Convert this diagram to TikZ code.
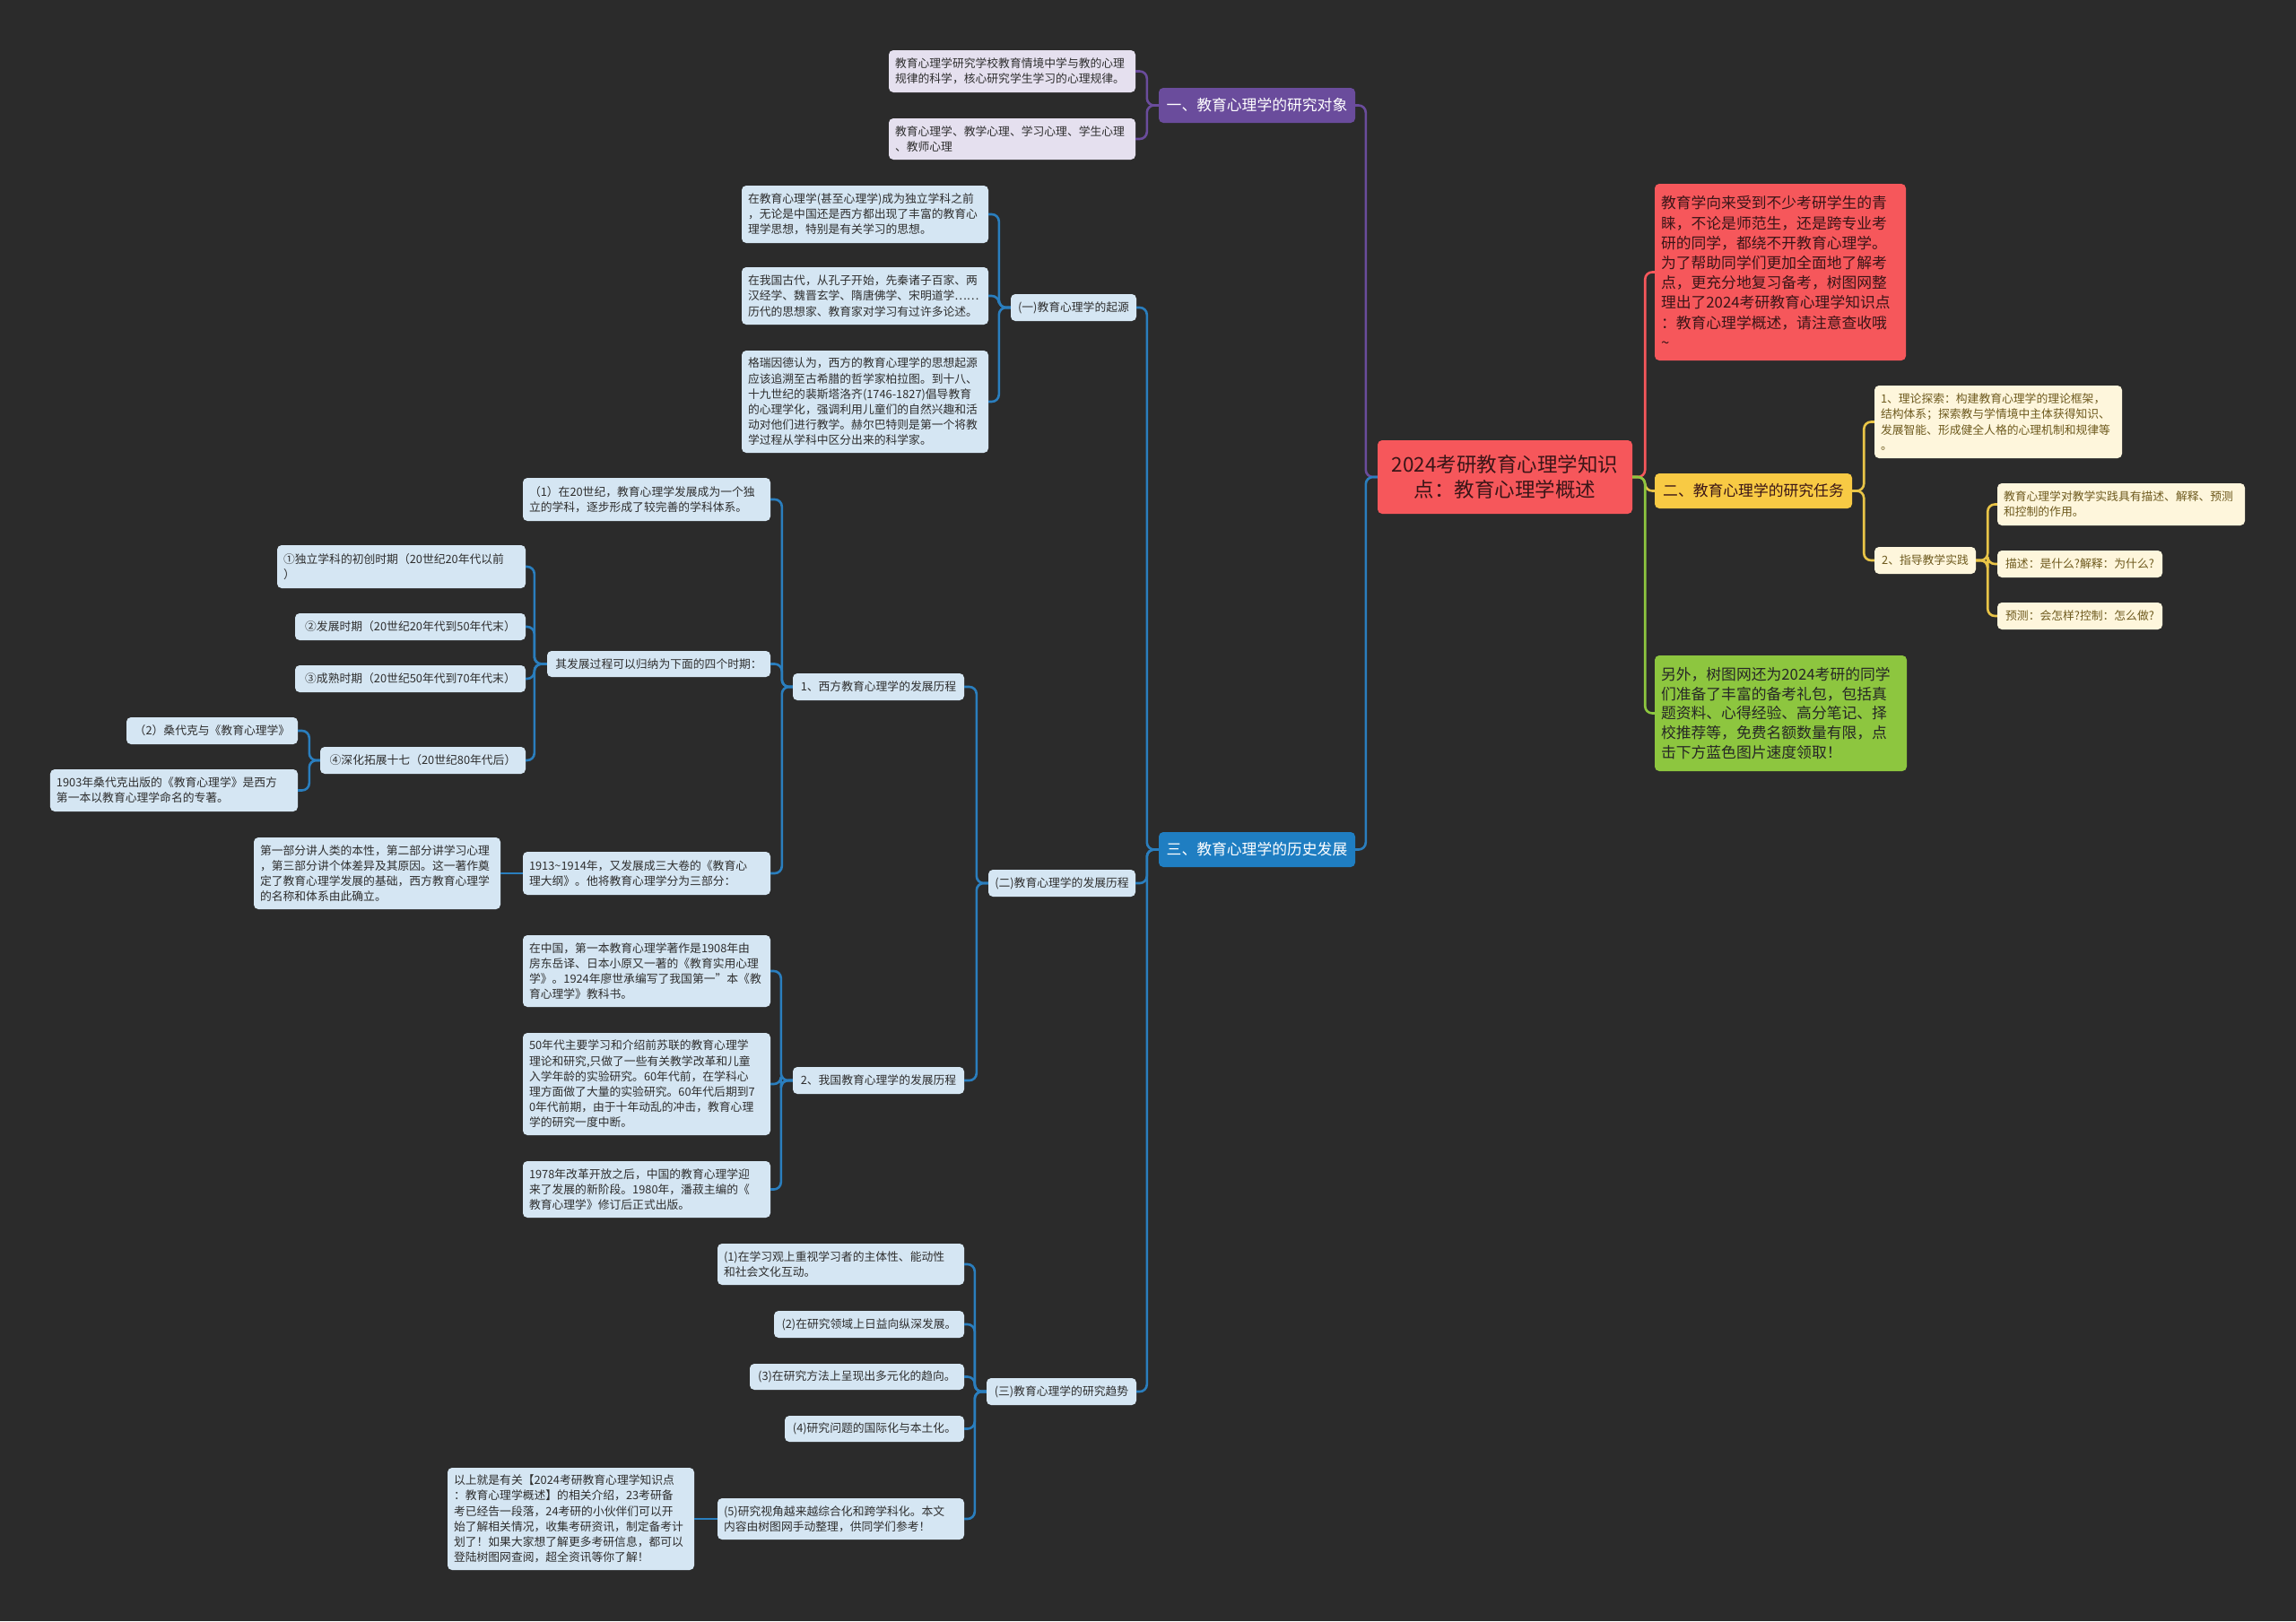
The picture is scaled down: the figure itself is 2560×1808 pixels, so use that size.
\documentclass[tikz,border=0pt]{standalone}
\usepackage{fontspec}
\setmainfont{Noto Sans CJK SC}
\definecolor{bgc}{HTML}{2B2B2B}
\definecolor{purM}{HTML}{6A4C9C}
\definecolor{purL}{HTML}{E5E0EF}
\definecolor{bluM}{HTML}{1F7EC2}
\definecolor{bluLn}{HTML}{2A7EBE}
\definecolor{bluL}{HTML}{D5E6F3}
\definecolor{redM}{HTML}{F6575B}
\definecolor{redT}{HTML}{3A1517}
\definecolor{yelM}{HTML}{F8CA44}
\definecolor{yelLn}{HTML}{E8C447}
\definecolor{yelL}{HTML}{FEF6DC}
\definecolor{yelT}{HTML}{6E5A1E}
\definecolor{grnM}{HTML}{8DC63F}
\definecolor{txtD}{HTML}{2E2E2E}
\newcommand\mmSmall{\fontsize{12.8bp}{17.2bp}\selectfont}
\newcommand\mmMid{\fontsize{16.8bp}{22.2bp}\selectfont}
\newcommand\mmRoot{\fontsize{22.5bp}{28bp}\selectfont}
\begin{document}
\begin{tikzpicture}[x=1bp,y=-1bp,
  box/.style={rounded corners=5bp, inner xsep=7bp, inner ysep=0bp, anchor=center},
  sm/.style={box, font=\mmSmall},
  md/.style={box, font=\mmMid},
  bl/.style={sm, fill=bluL, text=txtD},
  pl/.style={sm, fill=purL, text=txtD},
  yl/.style={sm, fill=yelL, text=yelT},
  wd/.style 2 args={text width=#1bp, minimum height=#2bp},
  conn/.style={line width=2.6bp, rounded corners=8bp},
  cP/.style={conn, draw=purM},
  cB/.style={conn, draw=bluLn},
  cR/.style={conn, draw=redM},
  cY/.style={conn, draw=yelLn},
  cG/.style={conn, draw=grnM}]
\fill[bgc] (0,0) rectangle (2560,1808);
\useasboundingbox (0,0) rectangle (2560,1808);

% root
\node[box, font=\mmRoot, fill=redM, text=redT, align=center, wd={270}{82}] (root) at (1678,532) {2024考研教育心理学知识\\点：教育心理学概述};

% purple branch
\node[md, fill=purM, text=white, align=center, wd={205}{39}] (P0) at (1401.5,117.5) {一、教育心理学的研究对象};
\node[pl, align=left, wd={261}{47}] (P1) at (1128.5,79.5) {教育心理学研究学校教育情境中学与教的心理\\规律的科学，核心研究学生学习的心理规律。};
\node[pl, align=left, wd={261}{46}] (P2) at (1128.5,155) {教育心理学、教学心理、学习心理、学生心理\\、教师心理};

% blue branch
\node[md, fill=bluM, text=white, align=center, wd={205}{39}] (B0) at (1401.5,947.5) {三、教育心理学的历史发展};
\node[bl, align=center, wd={126}{30}] (B1) at (1197,343) {(一)教育心理学的起源};
\node[bl, align=left, wd={261}{64}] (B1a) at (964.5,239) {在教育心理学(甚至心理学)成为独立学科之前\\，无论是中国还是西方都出现了丰富的教育心\\理学思想，特别是有关学习的思想。};
\node[bl, align=left, wd={261}{64}] (B1b) at (964.5,330) {在我国古代，从孔子开始，先秦诸子百家、两\\汉经学、魏晋玄学、隋唐佛学、宋明道学……\\历代的思想家、教育家对学习有过许多论述。};
\node[bl, align=left, wd={261}{114}] (B1c) at (964.5,448) {格瑞因德认为，西方的教育心理学的思想起源\\应该追溯至古希腊的哲学家柏拉图。到十八、\\十九世纪的裴斯塔洛齐(1746-1827)倡导教育\\的心理学化，强调利用儿童们的自然兴趣和活\\动对他们进行教学。赫尔巴特则是第一个将教\\学过程从学科中区分出来的科学家。};

\node[bl, align=center, wd={150}{30}] (B2) at (1184,985) {(二)教育心理学的发展历程};
\node[bl, align=center, wd={177}{30}] (W0) at (979.5,766) {1、西方教育心理学的发展历程};
\node[bl, align=left, wd={262}{48}] (W1) at (721,557) {（1）在20世纪，教育心理学发展成为一个独\\立的学科，逐步形成了较完善的学科体系。};
\node[bl, align=center, wd={235}{29}] (W2) at (734.5,740.5) {其发展过程可以归纳为下面的四个时期：};
\node[bl, align=left, wd={262}{48}] (W3) at (721,974) {1913\textasciitilde1914年，又发展成三大卷的《教育心\\理大纲》。他将教育心理学分为三部分：};
\node[bl, align=left, wd={261}{80}] (W3a) at (420.5,974) {第一部分讲人类的本性，第二部分讲学习心理\\，第三部分讲个体差异及其原因。这一著作奠\\定了教育心理学发展的基础，西方教育心理学\\的名称和体系由此确立。};
\node[bl, align=left, wd={263}{48}] (W2a) at (447.5,632) {①独立学科的初创时期（20世纪20年代以前\\）};
\node[bl, align=center, wd={243}{30}] (W2b) at (457.5,699) {②发展时期（20世纪20年代到50年代末）};
\node[bl, align=center, wd={243}{30}] (W2c) at (457.5,757) {③成熟时期（20世纪50年代到70年代末）};
\node[bl, align=center, wd={215}{30}] (W2d) at (471.5,848) {④深化拓展十七（20世纪80年代后）};
\node[bl, align=center, wd={177}{30}] (W2d1) at (236.5,815) {（2）桑代克与《教育心理学》};
\node[bl, align=left, wd={262}{47}] (W2d2) at (194,881.5) {1903年桑代克出版的《教育心理学》是西方\\第一本以教育心理学命名的专著。};

\node[bl, align=center, wd={177}{30}] (C0) at (979.5,1205) {2、我国教育心理学的发展历程};
\node[bl, align=left, wd={262}{80}] (C1) at (721,1083) {在中国，第一本教育心理学著作是1908年由\\房东岳译、日本小原又一著的《教育实用心理\\学》。1924年廖世承编写了我国第一"本《教\\育心理学》教科书。};
\node[bl, align=left, wd={262}{114}] (C2) at (721,1209) {50年代主要学习和介绍前苏联的教育心理学\\理论和研究,只做了一些有关教学改革和儿童\\入学年龄的实验研究。60年代前，在学科心\\理方面做了大量的实验研究。60年代后期到7\\0年代前期，由于十年动乱的冲击，教育心理\\学的研究一度中断。};
\node[bl, align=left, wd={262}{63}] (C3) at (721,1326.5) {1978年改革开放之后，中国的教育心理学迎\\来了发展的新阶段。1980年，潘菽主编的《\\教育心理学》修订后正式出版。};

\node[bl, align=center, wd={153}{30}] (B3) at (1183.5,1552) {(三)教育心理学的研究趋势};
\node[bl, align=left, wd={261}{46}] (T1) at (937.5,1410) {(1)在学习观上重视学习者的主体性、能动性\\和社会文化互动。};
\node[bl, align=center, wd={198}{30}] (T2) at (969,1477) {(2)在研究领域上日益向纵深发展。};
\node[bl, align=center, wd={225}{29}] (T3) at (955.5,1535.5) {(3)在研究方法上呈现出多元化的趋向。};
\node[bl, align=center, wd={186}{29}] (T4) at (975,1593.5) {(4)研究问题的国际化与本土化。};
\node[bl, align=left, wd={261}{46}] (T5) at (937.5,1694) {(5)研究视角越来越综合化和跨学科化。本文\\内容由树图网手动整理，供同学们参考！};
\node[bl, align=left, wd={261}{114}] (T5a) at (636.5,1694) {以上就是有关【2024考研教育心理学知识点\\：教育心理学概述】的相关介绍，23考研备\\考已经告一段落，24考研的小伙伴们可以开\\始了解相关情况，收集考研资讯，制定备考计\\划了！如果大家想了解更多考研信息，都可以\\登陆树图网查阅，超全资讯等你了解！};

% right side
\node[md, fill=redM, text=redT, align=left, wd={266}{197}] (R1) at (1985,303.5) {教育学向来受到不少考研学生的青\\睐，不论是师范生，还是跨专业考\\研的同学，都绕不开教育心理学。\\为了帮助同学们更加全面地了解考\\点，更充分地复习备考，树图网整\\理出了2024考研教育心理学知识点\\：教育心理学概述，请注意查收哦\\\textasciitilde};
\node[md, fill=yelM, text=redT, align=center, wd={206}{39}] (Y0) at (1955,547.5) {二、教育心理学的研究任务};
\node[yl, align=left, wd={262}{81}] (Y1) at (2228,470.5) {1、理论探索：构建教育心理学的理论框架，\\结构体系；探索教与学情境中主体获得知识、\\发展智能、形成健全人格的心理机制和规律等\\。};
\node[yl, align=center, wd={99}{30}] (Y2) at (2146.5,625) {2、指导教学实践};
\node[yl, align=left, wd={262}{47}] (Y2a) at (2365,562.5) {教育心理学对教学实践具有描述、解释、预测\\和控制的作用。};
\node[yl, align=center, wd={170}{30}] (Y2b) at (2319,629) {描述：是什么?解释：为什么?};
\node[yl, align=center, wd={170}{30}] (Y2c) at (2319,687) {预测：会怎样?控制：怎么做?};
\node[md, fill=grnM, text=black!85, align=left, wd={267}{129}, font=\fontsize{16.8bp}{21.7bp}\selectfont] (G) at (1985.5,795.5) {另外，树图网还为2024考研的同学\\们准备了丰富的备考礼包，包括真\\题资料、心得经验、高分笔记、择\\校推荐等，免费名额数量有限，点\\击下方蓝色图片速度领取！};

% connectors: purple
\draw[cP] (root.west) -- ++(-13,0) |- (P0.east);
\draw[cP] (P0.west) -- ++(-13,0) |- (P1.east);
\draw[cP] (P0.west) -- ++(-13,0) |- (P2.east);
% blue
\draw[cB] (root.west) -- ++(-13,0) |- (B0.east);
\foreach \c in {B1,B2,B3} \draw[cB] (B0.west) -- ++(-13,0) |- (\c.east);
\foreach \c in {B1a,B1b,B1c} \draw[cB] (B1.west) -- ++(-13,0) |- (\c.east);
\foreach \c in {W0,C0} \draw[cB] (B2.west) -- ++(-13,0) |- (\c.east);
\foreach \c in {W1,W2,W3} \draw[cB] (W0.west) -- ++(-12,0) |- (\c.east);
\foreach \c in {W2a,W2b,W2c,W2d} \draw[cB] (W2.west) -- ++(-14,0) |- (\c.east);
\foreach \c in {W2d1,W2d2} \draw[cB] (W2d.west) -- ++(-12,0) |- (\c.east);
\draw[cB] (W3.west) -- (W3a.east);
\foreach \c in {C1,C2,C3} \draw[cB] (C0.west) -- ++(-13,0) |- (\c.east);
\foreach \c in {T1,T2,T3,T4,T5} \draw[cB] (B3.west) -- ++(-13,0) |- (\c.east);
\draw[cB] (T5.west) -- (T5a.east);
% right
\draw[cR] (root.east) -- ++(14,0) |- (R1.west);
\draw[cY] (root.east) -- ++(14,0) |- (Y0.west);
\draw[cG] (root.east) -- ++(14,0) |- (G.west);
\foreach \c in {Y1,Y2} \draw[cY] (Y0.east) -- ++(13,0) |- (\c.west);
\foreach \c in {Y2a,Y2b,Y2c} \draw[cY] (Y2.east) -- ++(13,0) |- (\c.west);
\end{tikzpicture}
\end{document}
